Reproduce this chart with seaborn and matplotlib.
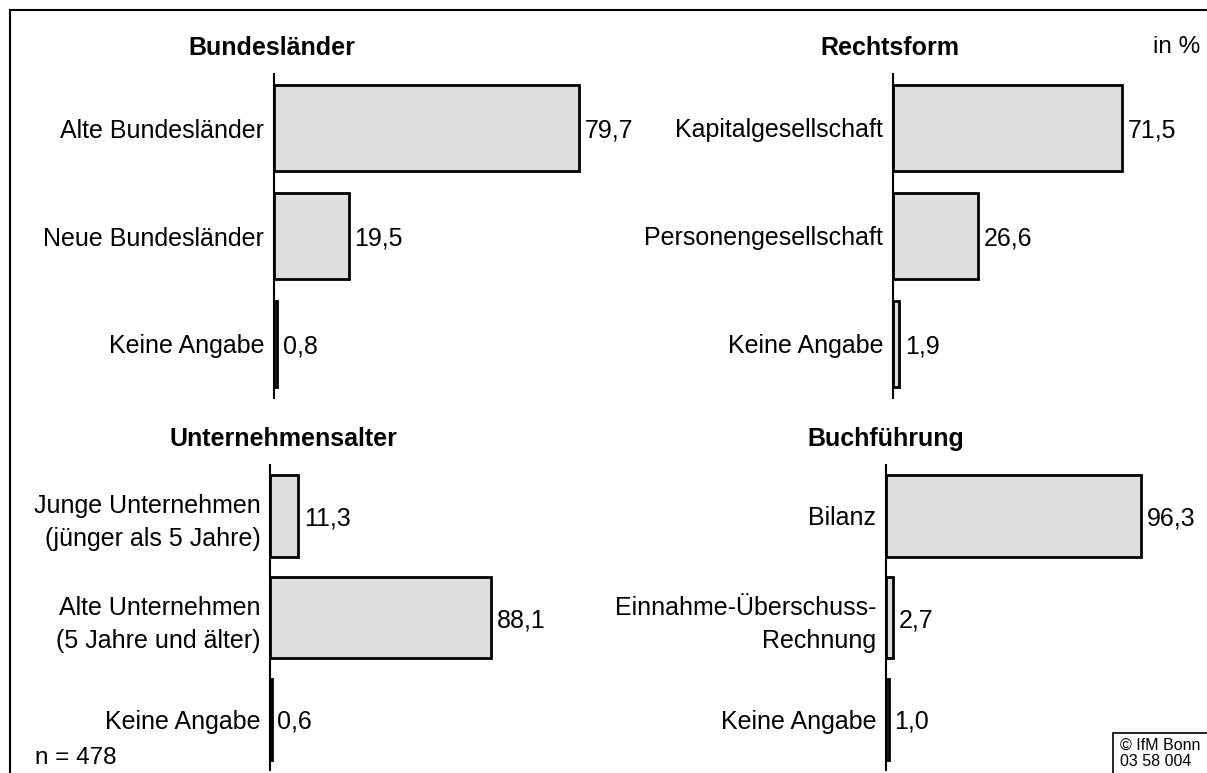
import pandas as pd
import matplotlib.pyplot as plt
import seaborn as sns
from matplotlib.patches import Rectangle

# panel data
titles = ['Bundesländer', 'Rechtsform', 'Unternehmensalter', 'Buchführung']

cats_land = ['Alte Bundesländer', 'Neue Bundesländer', 'Keine Angabe']
vals_land = [79.7, 19.5, 0.8]

cats_form = ['Kapitalgesellschaft', 'Personengesellschaft', 'Keine Angabe']
vals_form = [71.5, 26.6, 1.9]

cats_alter = ['Junge Unternehmen\n(jünger als 5 Jahre)',
              'Alte Unternehmen\n(5 Jahre und älter)', 'Keine Angabe']
vals_alter = [11.3, 88.1, 0.6]

cats_buch = ['Bilanz', 'Einnahme-Überschuss-\nRechnung', 'Keine Angabe']
vals_buch = [96.3, 2.7, 1.0]

W, H = 1207, 773
sns.set_style('white')
plt.rcParams['font.family'] = ['Liberation Sans', 'DejaVu Sans']
plt.rcParams['text.color'] = 'black'
plt.rcParams['ytick.color'] = 'black'
plt.rcParams['ytick.labelcolor'] = 'black'

fig = plt.figure(figsize=(W / 100, H / 100), dpi=100)

# (left px, top px, bottom px, px per percent, title x px, title y px)
layout = [
    (274, 74, 398, 3.83, 272, 48),
    (893, 74, 398, 3.20, 890, 48),
    (270, 465, 770, 2.51, 283, 439),
    (886, 465, 770, 2.65, 886, 439),
]
panels = [(cats_land, vals_land), (cats_form, vals_form),
          (cats_alter, vals_alter), (cats_buch, vals_buch)]

for (cats, vals), title, (lx, ty, by, scale, tx, tty) in zip(panels, titles, layout):
    width_px = 100 * scale
    ax = fig.add_axes([lx / W, 1 - by / H, width_px / W, (by - ty) / H])
    df = pd.DataFrame({'Kategorie': cats, 'Anteil': vals})
    sns.barplot(data=df, y='Kategorie', x='Anteil', orient='h', ax=ax,
                color='#dedede', edgecolor='black', linewidth=2, width=0.8,
                saturation=1)
    ax.set_xlim(0, 100)
    ax.set_ylim(2.5, -0.5)
    ax.set_xlabel('')
    ax.set_ylabel('')
    ax.set_xticks([])
    for s in ['top', 'right', 'bottom']:
        ax.spines[s].set_visible(False)
    ax.spines['left'].set_linewidth(1.5)
    ax.spines['left'].set_color('black')
    ax.tick_params(axis='y', length=0, pad=7, labelsize=18)
    for lab in ax.get_yticklabels():
        lab.set_linespacing(1.45)
    texts = ax.bar_label(ax.containers[0],
                         labels=[f'{v:.1f}'.replace('.', ',') for v in vals],
                         padding=4, fontsize=18, color='black')
    for t in texts:
        t.xyann = (4, -2)
    ax.patch.set_alpha(0)
    fig.text(tx / W, 1 - tty / H, title, ha='center', va='center',
             fontsize=18, fontweight='bold')

fig.text(1153 / W, 1 - 47 / H, 'in %', ha='left', va='center', fontsize=17.5)
fig.text(35 / W, 1 - 758 / H, 'n = 478', ha='left', va='center', fontsize=17.5)

# outer frame
fig.add_artist(Rectangle((10 / W, -0.1), 1.2, 1.1 - 10 / H,
                         transform=fig.transFigure, fill=False,
                         lw=1.5, edgecolor='black'))
# source box
fig.add_artist(Rectangle((1113 / W, -0.1), 0.2, 0.1 + 1 - 733 / H,
                         transform=fig.transFigure, fill=True,
                         facecolor='white', lw=1.2, edgecolor='black'))
fig.text(1120 / W, 1 - 738 / H, '© IfM Bonn\n03 58 004', ha='left', va='top',
         fontsize=11.5, linespacing=1.05)

fig.savefig('out.png', dpi=100)
